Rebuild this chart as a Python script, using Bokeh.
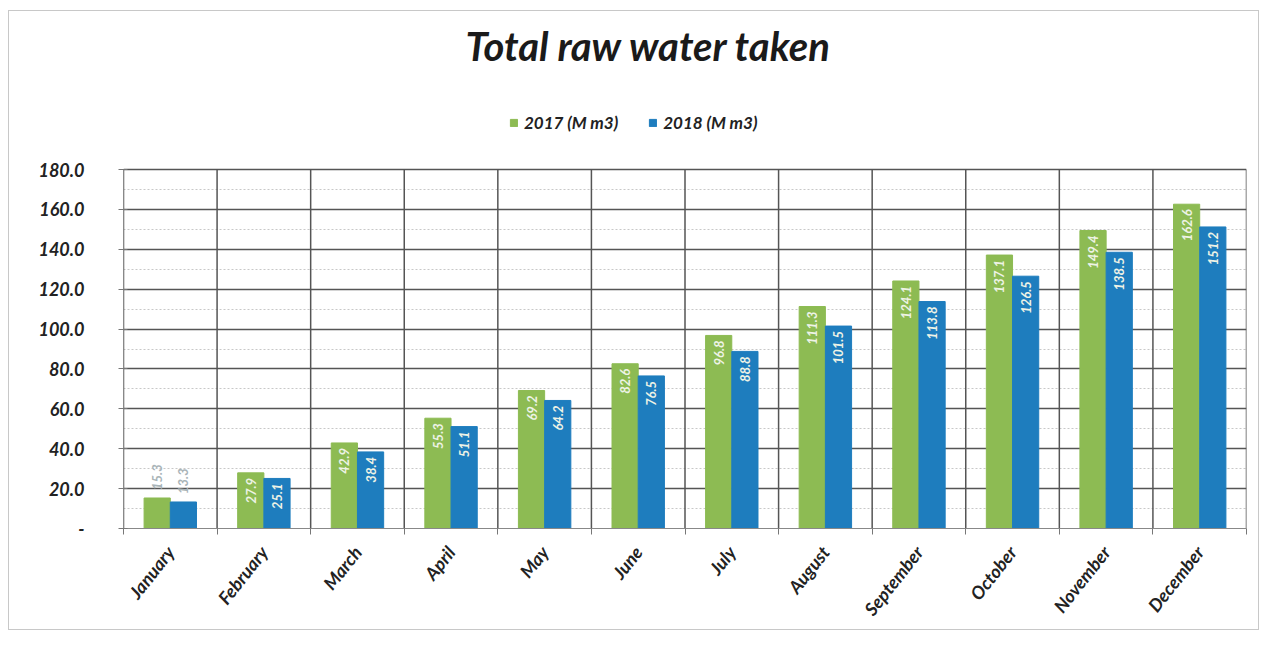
import math
from bokeh.plotting import figure
from bokeh.models import (ColumnDataSource, Range1d, FixedTicker, Legend, LegendItem,
                          PrintfTickFormatter, Title)
from bokeh.core.properties import value
from bokeh.embed import file_html
from bokeh.resources import INLINE

months = ["January", "February", "March", "April", "May", "June", "July",
          "August", "September", "October", "November", "December"]
v2017 = [15.3, 27.9, 42.9, 55.3, 69.2, 82.6, 96.8, 111.3, 124.1, 137.1, 149.4, 162.6]
v2018 = [13.3, 25.1, 38.4, 51.1, 64.2, 76.5, 88.8, 101.5, 113.8, 126.5, 138.5, 151.2]
y_ticks = [0, 20, 40, 60, 80, 100, 120, 140, 160, 180]

GREEN = "#8dbb53"
BLUE = "#1e7dbe"
FONT = "Lato"
OFF = 0.14
BW = 0.28
FW = 1123
PLOT_H = 359          # pixel height of the 0..180 area
TOP_H = 98            # extra frame space above it, holding the legend
FH = PLOT_H + TOP_H
y_max = y_ticks[-1]
y_end = y_max * FH / PLOT_H

idx = list(range(len(months)))
src = ColumnDataSource(dict(
    x17=[i + 0.5 - OFF for i in idx], x18=[i + 0.5 + OFF for i in idx],
    v17=v2017, v18=v2018,
    t17=["%.1f" % v for v in v2017], t18=["%.1f" % v for v in v2018],
))

p = figure(frame_width=FW, frame_height=FH, output_backend="svg", toolbar_location=None,
           x_range=Range1d(0, len(months)), y_range=Range1d(0, y_end),
           min_border_left=114, min_border_right=12, min_border_top=60,
           min_border_bottom=93)
p.title = None
p.outline_line_color = None
p.background_fill_color = "white"
p.border_fill_color = "white"

# vertical category separators (limited to the value area)
bounds = list(range(len(months) + 1))
p.segment(x0=bounds, y0=[0] * len(bounds), x1=bounds, y1=[y_max] * len(bounds),
          line_color="#555555", line_width=1.5)

r17 = p.vbar(x="x17", top="v17", width=BW, bottom=0, source=src, color=GREEN)
r18 = p.vbar(x="x18", top="v18", width=BW, bottom=0, source=src, color=BLUE)

# value labels: inside the bar end, or above it when the bar is short
inside = [i for i in idx if v2017[i] >= 20]
outside = [i for i in idx if v2017[i] < 20]
for xs, vs, ts in (("x17", "v17", "t17"), ("x18", "v18", "t18")):
    data = src.data
    s_in = ColumnDataSource(dict(x=[data[xs][i] for i in inside], y=[data[vs][i] for i in inside],
                                 t=[data[ts][i] for i in inside]))
    s_out = ColumnDataSource(dict(x=[data[xs][i] for i in outside], y=[data[vs][i] for i in outside],
                                  t=[data[ts][i] for i in outside]))
    p.text(x="x", y="y", text="t", source=s_in, angle=math.pi / 2, text_align="right",
           text_baseline="middle", y_offset=5, text_color="#eef3e6",
           text_font=value(FONT), text_font_style="bold italic", text_font_size="13px")
    p.text(x="x", y="y", text="t", source=s_out, angle=math.pi / 2, text_align="left",
           text_baseline="middle", y_offset=-8, text_color="#a9b4b8",
           text_font=value(FONT), text_font_style="bold italic", text_font_size="13px")

# axes
p.xaxis.ticker = FixedTicker(ticks=[i + 0.5 for i in idx], minor_ticks=bounds)
p.xaxis.major_label_overrides = {i + 0.5: m for i, m in enumerate(months)}
p.xaxis.major_label_orientation = 0.9
p.xaxis.major_tick_line_color = None
p.xaxis.minor_tick_out = 6
p.xaxis.minor_tick_in = 0
p.xaxis.minor_tick_line_color = "#777777"
p.xaxis.axis_line_color = "#888888"
p.xaxis.major_label_text_font = FONT
p.xaxis.major_label_text_font_style = "bold italic"
p.xaxis.major_label_text_font_size = "18px"
p.xaxis.major_label_text_color = "#222222"
p.xaxis.major_label_standoff = 14

p.yaxis.ticker = FixedTicker(ticks=y_ticks, minor_ticks=[t + 10 for t in y_ticks[:-1]])
p.yaxis.bounds = (0, y_max)
p.yaxis.formatter = PrintfTickFormatter(format="%.1f")
p.yaxis.major_label_overrides = {0: "-"}
p.yaxis.major_tick_in = 4
p.yaxis.major_tick_out = 5
p.yaxis.minor_tick_line_color = None
p.yaxis.major_tick_line_color = "#777777"
p.yaxis.axis_line_color = "#888888"
p.yaxis.major_label_text_font = FONT
p.yaxis.major_label_text_font_style = "bold italic"
p.yaxis.major_label_text_font_size = "18px"
p.yaxis.major_label_text_color = "#222222"
p.yaxis.major_label_standoff = 34

# grids
p.xgrid.grid_line_color = None
p.ygrid.grid_line_color = "#555555"
p.ygrid.grid_line_width = 1.5
p.ygrid.minor_grid_line_color = "#c8c8c8"
p.ygrid.minor_grid_line_dash = "2 2"

# legend (inside the frame's top strip)
legend = Legend(items=[LegendItem(label="2017 (M m3)", renderers=[r17]),
                       LegendItem(label="2018 (M m3)", renderers=[r18])],
                orientation="horizontal", location=(386, PLOT_H + 36),
                label_text_font=FONT, label_text_font_style="bold italic",
                label_text_font_size="17px", label_text_color="#222222",
                glyph_width=9, glyph_height=9, spacing=30, label_standoff=6,
                padding=0, margin=0,
                border_line_color=None, background_fill_alpha=0)
p.add_layout(legend, "center")

title = Title(text="Total raw water taken", align="left", offset=342,
              text_font=FONT, text_font_style="bold italic", text_font_size="40px",
              text_color="#1a1a1a", standoff=4)
p.add_layout(title, "above")

p.styles = {"border": "1px solid #c8c8c8", "box-sizing": "border-box",
            "margin-left": "8px", "margin-top": "10px"}

open("out.html", "w").write(file_html(p, INLINE))
